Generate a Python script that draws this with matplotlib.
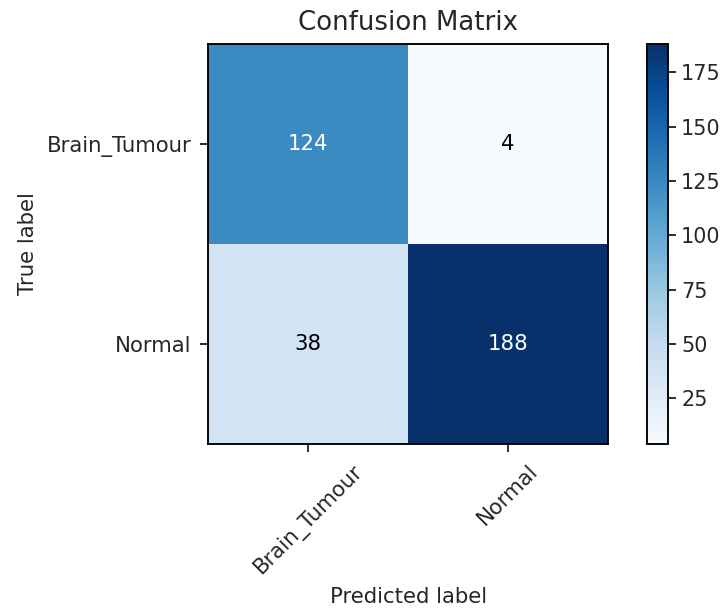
import numpy as np
import matplotlib.pyplot as plt

classes = ["Brain_Tumour", "Normal"]
cm = np.array([[124, 4],
               [38, 188]])

plt.rcParams["font.size"] = 9
plt.rcParams["text.color"] = "#262626"
plt.rcParams["xtick.color"] = "#262626"
plt.rcParams["ytick.color"] = "#262626"
plt.rcParams["axes.labelcolor"] = "#262626"

fig = plt.figure(figsize=(4.253, 3.6), dpi=170)
ax = fig.add_axes([0.288, 0.2745, 0.553, 0.6535])
im = ax.imshow(cm, interpolation="nearest", cmap=plt.cm.Blues, aspect="auto")
ax.set_title("Confusion Matrix", fontsize=11)

cax = fig.add_axes([0.895, 0.2745, 0.029, 0.6535])
cbar = fig.colorbar(im, cax=cax)
cbar.ax.tick_params(pad=2, labelsize=8.8)

ticks = np.arange(len(classes))
ax.set_xticks(ticks)
ax.set_xticklabels(classes, rotation=45)
ax.set_yticks(ticks)
ax.set_yticklabels(classes)

# white text on dark cells
thresh = cm.max() / 2.0
for i in range(cm.shape[0]):
    for j in range(cm.shape[1]):
        ax.text(j, i, format(cm[i, j], "d"),
                ha="center", va="center",
                color="white" if cm[i, j] > thresh else "black")

ax.set_ylabel("True label")
ax.set_xlabel("Predicted label")
fig.savefig("out.png", dpi=170)
